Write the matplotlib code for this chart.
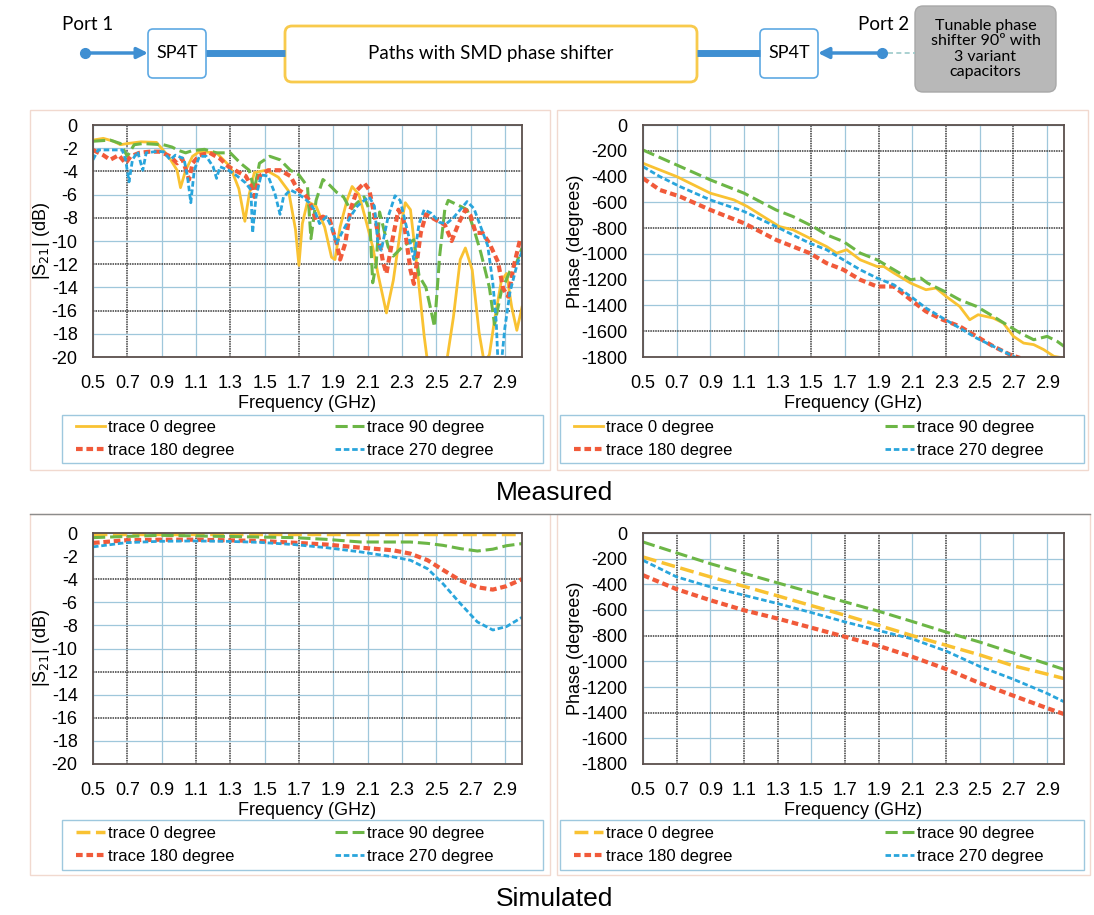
import matplotlib
matplotlib.use('Agg')
import matplotlib.pyplot as plt
from matplotlib.patches import FancyBboxPatch, Rectangle
from matplotlib.transforms import blended_transform_factory

plt.rcParams['font.family'] = ['Liberation Sans', 'DejaVu Sans']
plt.rcParams['axes.unicode_minus'] = False

labels = ['trace 0 degree', 'trace 90 degree', 'trace 180 degree', 'trace 270 degree']
colors = ['#f9c232', '#6cb646', '#f15a3a', '#29a5dc']

# ---- measured |S21| (dB)
ms_f0 = [0.50, 0.56, 0.62, 0.66, 0.70, 0.78, 0.87, 0.94, 0.99, 1.01, 1.04, 1.08, 1.12, 1.22, 1.30,
         1.35, 1.385, 1.41, 1.44, 1.51, 1.58, 1.64, 1.68, 1.70, 1.72, 1.75, 1.80, 1.85, 1.89, 1.91,
         1.94, 1.98, 2.01, 2.05, 2.09, 2.13, 2.16, 2.21, 2.25, 2.30, 2.32, 2.35, 2.39, 2.43, 2.45,
         2.56, 2.60, 2.64, 2.67, 2.71, 2.75, 2.78, 2.81, 2.84, 2.88, 2.91, 2.94, 2.97, 3.00]
ms_0 = [-1.3, -1.15, -1.4, -1.7, -1.6, -1.45, -1.5, -2.7, -3.9, -5.4, -3.9, -2.7, -2.3, -2.4, -3.6,
        -5.5, -8.3, -6.0, -4.1, -3.9, -4.5, -5.7, -9.0, -12.1, -8.5, -6.6, -7.0, -8.8, -11.4, -11.6,
        -8.8, -6.5, -5.3, -6.0, -8.2, -10.5, -12.8, -16.2, -13.4, -8.2, -6.7, -7.3, -12.5, -18.2, -20.5,
        -20.5, -16.6, -11.6, -10.6, -12.5, -17.9, -20.5, -19.8, -16.8, -13.4, -12.8, -15.7, -17.7, -15.7]

ms_f90 = [0.50, 0.60, 0.66, 0.70, 0.74, 0.79, 0.91, 0.96, 1.00, 1.04, 1.08, 1.15, 1.22, 1.30, 1.36,
          1.41, 1.44, 1.47, 1.53, 1.59, 1.65, 1.70, 1.75, 1.77, 1.80, 1.84, 1.88, 1.92, 1.96, 2.00,
          2.04, 2.08, 2.11, 2.13, 2.15, 2.17, 2.22, 2.25, 2.31, 2.37, 2.40, 2.44, 2.47, 2.49, 2.52,
          2.55, 2.57, 2.64, 2.68, 2.72, 2.76, 2.81, 2.84, 2.88, 2.93, 2.97, 3.00]
ms_90 = [-1.4, -1.3, -1.6, -2.7, -1.7, -1.6, -1.7, -1.9, -2.2, -2.4, -2.2, -2.1, -2.4, -2.4, -3.3,
         -3.9, -5.6, -3.3, -2.7, -3.0, -3.9, -4.3, -5.3, -9.8, -6.5, -4.7, -5.2, -5.8, -6.2, -7.3,
         -6.7, -6.2, -7.3, -13.6, -12.0, -7.5, -10.5, -11.3, -10.4, -9.9, -13.0, -14.0, -16.0, -17.4, -11.3,
         -7.3, -6.5, -7.0, -7.3, -9.0, -11.0, -14.0, -17.2, -14.3, -12.6, -11.8, -10.6]

ms_f180 = [0.50, 0.56, 0.60, 0.65, 0.69, 0.72, 0.77, 0.83, 0.89, 0.95, 0.99, 1.02, 1.06, 1.08, 1.12,
           1.18, 1.24, 1.29, 1.34, 1.39, 1.42, 1.44, 1.47, 1.52, 1.59, 1.65, 1.69, 1.73, 1.76, 1.80,
           1.84, 1.88, 1.92, 1.94, 1.97, 2.00, 2.04, 2.08, 2.11, 2.15, 2.19, 2.21, 2.25, 2.28, 2.31,
           2.35, 2.37, 2.41, 2.44, 2.50, 2.55, 2.59, 2.63, 2.67, 2.70, 2.73, 2.77, 2.81, 2.86, 2.89,
           2.92, 2.95, 2.99]
ms_180 = [-2.15, -2.6, -3.0, -2.6, -3.3, -2.7, -2.4, -2.3, -2.3, -2.7, -3.3, -2.9, -4.7, -3.3, -2.6,
          -2.4, -2.9, -3.6, -4.0, -4.4, -5.2, -6.2, -4.4, -3.9, -3.9, -4.4, -5.5, -5.9, -6.5, -8.2,
          -7.9, -8.2, -10.2, -11.6, -10.2, -7.3, -5.6, -5.0, -5.6, -8.5, -11.8, -12.8, -9.5, -7.3, -8.2,
          -12.5, -13.7, -9.3, -7.7, -8.2, -8.6, -10.0, -8.5, -7.3, -7.8, -9.3, -9.3, -10.2, -11.8, -14.1,
          -14.8, -12.3, -9.8]

ms_f270 = [0.50, 0.53, 0.60, 0.67, 0.69, 0.71, 0.73, 0.76, 0.79, 0.81, 0.86, 0.91, 0.95, 0.98, 1.03,
           1.05, 1.07, 1.09, 1.12, 1.16, 1.20, 1.22, 1.24, 1.29, 1.34, 1.39, 1.42, 1.43, 1.45, 1.48,
           1.52, 1.56, 1.59, 1.61, 1.65, 1.69, 1.73, 1.76, 1.79, 1.82, 1.86, 1.89, 1.92, 1.95, 2.00,
           2.04, 2.08, 2.11, 2.14, 2.16, 2.18, 2.22, 2.26, 2.29, 2.34, 2.37, 2.40, 2.43, 2.47, 2.52,
           2.56, 2.60, 2.64, 2.68, 2.72, 2.76, 2.80, 2.83, 2.85, 2.86, 2.88, 2.90, 2.93, 2.97, 3.00]
ms_270 = [-3.0, -2.15, -2.15, -2.15, -3.0, -4.9, -3.0, -2.3, -3.9, -2.4, -2.3, -2.3, -3.0, -2.6, -2.9,
          -4.4, -6.7, -3.9, -2.7, -2.7, -3.6, -4.6, -3.6, -3.9, -4.4, -5.0, -5.6, -9.3, -6.2, -4.3,
          -4.4, -5.9, -7.7, -6.2, -5.6, -5.9, -6.3, -6.7, -7.3, -8.5, -7.9, -8.8, -10.2, -9.3, -7.9,
          -7.0, -6.5, -6.2, -7.0, -10.2, -10.8, -7.9, -6.1, -6.5, -9.6, -11.6, -8.5, -7.3, -7.6, -8.4,
          -8.5, -8.0, -7.3, -6.6, -7.2, -8.8, -10.4, -13.6, -17.0, -20.5, -20.5, -17.5, -14.4, -12.1, -10.9]

# ---- measured phase (degrees)
mp_f0 = [0.50, 0.70, 0.90, 1.04, 1.12, 1.31, 1.39, 1.51, 1.59, 1.65, 1.71, 1.79, 1.89, 1.93, 1.99,
         2.09, 2.18, 2.24, 2.30, 2.38, 2.44, 2.49, 2.58, 2.64, 2.70, 2.76, 2.82, 2.88, 2.94, 3.00]
mp_0 = [-297, -400, -529, -581, -633, -788, -813, -891, -943, -994, -968, -1046, -1098, -1098, -1149,
        -1227, -1278, -1265, -1330, -1407, -1511, -1472, -1498, -1537, -1640, -1692, -1704, -1743, -1795, -1808]

mp_f90 = [0.50, 0.70, 0.90, 1.10, 1.29, 1.39, 1.43, 1.51, 1.59, 1.69, 1.79, 1.89, 1.99, 2.09, 2.15,
          2.19, 2.29, 2.38, 2.48, 2.58, 2.66, 2.74, 2.82, 2.90, 2.96, 3.00]
mp_90 = [-194, -310, -426, -529, -659, -710, -736, -788, -852, -904, -994, -1046, -1123, -1201, -1188,
         -1227, -1291, -1356, -1407, -1485, -1550, -1614, -1666, -1640, -1679, -1717]

mp_f180 = [0.50, 0.60, 0.72, 0.90, 1.10, 1.29, 1.49, 1.59, 1.69, 1.79, 1.89, 1.99, 2.09, 2.18, 2.28,
           2.38, 2.48, 2.58, 2.68, 2.74]
mp_180 = [-413, -504, -555, -659, -762, -891, -994, -1072, -1123, -1201, -1253, -1253, -1356, -1446, -1511,
          -1562, -1640, -1717, -1782, -1808]

mp_f270 = [0.50, 0.60, 0.72, 0.90, 1.10, 1.29, 1.49, 1.59, 1.69, 1.79, 1.89, 1.99, 2.09, 2.18, 2.28,
           2.38, 2.48, 2.58, 2.68, 2.72]
mp_270 = [-323, -400, -478, -581, -671, -788, -917, -968, -1046, -1123, -1188, -1240, -1330, -1420, -1498,
          -1575, -1653, -1717, -1782, -1808]

# ---- simulated |S21| (dB)
ss_f = [0.50, 0.69, 0.89, 1.08, 1.28, 1.47, 1.67, 1.86, 2.06, 2.25, 2.35, 2.45, 2.54, 2.64, 2.74,
        2.83, 2.91, 3.00]
ss_0 = [-0.05] * len(ss_f)
ss_90 = [-0.4, -0.3, -0.2, -0.25, -0.3, -0.35, -0.4, -0.55, -0.78, -0.78, -0.78, -0.9, -1.07, -1.35, -1.56,
         -1.4, -1.1, -0.92]
ss_180 = [-0.86, -0.63, -0.58, -0.58, -0.63, -0.69, -0.84, -1.0, -1.27, -1.5, -1.79, -2.36, -3.2, -4.1, -4.7,
          -4.9, -4.6, -4.0]
ss_270 = [-1.2, -0.84, -0.72, -0.69, -0.72, -0.81, -1.0, -1.27, -1.64, -2.07, -2.36, -3.1, -4.4, -6.1, -7.7,
          -8.4, -8.1, -7.3]

# ---- simulated phase (degrees)
sp_f = [0.50, 0.70, 0.90, 1.10, 1.30, 1.50, 1.70, 1.90, 2.10, 2.30, 2.50, 2.70, 2.90, 3.00]
sp_0 = [-187, -265, -342, -416, -490, -566, -641, -720, -800, -875, -950, -1035, -1100, -1134]
sp_90 = [-70, -155, -239, -314, -389, -463, -537, -610, -690, -772, -850, -935, -1020, -1063]
sp_180 = [-329, -438, -524, -602, -667, -738, -809, -880, -965, -1060, -1170, -1268, -1365, -1411]
sp_270 = [-213, -342, -420, -485, -550, -620, -693, -760, -826, -920, -1040, -1140, -1250, -1315]

freq_ticks = [0.5, 0.7, 0.9, 1.1, 1.3, 1.5, 1.7, 1.9, 2.1, 2.3, 2.5, 2.7, 2.9]

W, H = 1094, 915
fig = plt.figure(figsize=(W / 100, H / 100), dpi=100)

# full-figure axes in pixel units for the block diagram and frames
bg = fig.add_axes([0, 0, 1, 1])
bg.set_xlim(0, W)
bg.set_ylim(H, 0)
bg.axis('off')

blue = '#3f8fd2'
bg.plot(85, 53, 'o', color=blue, ms=7)
bg.annotate('', xy=(148, 53), xytext=(85, 53),
            arrowprops=dict(arrowstyle='-|>', color=blue, lw=2.5, mutation_scale=16, shrinkA=0, shrinkB=0))
bg.plot([206, 285], [53, 53], color=blue, lw=5, solid_capstyle='butt')
bg.plot([697, 760], [53, 53], color=blue, lw=5, solid_capstyle='butt')
bg.plot(882, 53, 'o', color=blue, ms=7)
bg.annotate('', xy=(818, 53), xytext=(882, 53),
            arrowprops=dict(arrowstyle='-|>', color=blue, lw=2.5, mutation_scale=16, shrinkA=0, shrinkB=0))
bg.plot([888, 915], [53, 53], color='#9cc9c9', lw=1.2, ls=(0, (3, 2)))

for x0 in (148, 760):
    bg.add_patch(FancyBboxPatch((x0, 29), 58, 49, boxstyle='round,pad=0,rounding_size=5',
                                fc='white', ec='#5ea9e3', lw=1.2))
    bg.text(x0 + 29, 53.5, 'SP4T', ha='center', va='center', fontsize=13, family='Lato')
bg.add_patch(FancyBboxPatch((285, 26), 412, 56, boxstyle='round,pad=0,rounding_size=7',
                            fc='white', ec='#f8ca4c', lw=2))
bg.text(491, 53, 'Paths with SMD phase shifter', ha='center', va='center', fontsize=13.5, family='Lato')
bg.add_patch(FancyBboxPatch((915, 6), 141, 86, boxstyle='round,pad=0,rounding_size=8',
                            fc='#b8b8b8', ec='#a8a8a8', lw=1))
bg.text(985.5, 49, 'Tunable phase\nshifter 90º with\n3 variant\ncapacitors', ha='center', va='center',
        fontsize=11.5, family='Lato', linespacing=1.15)
bg.text(88, 24, 'Port 1', ha='center', va='center', fontsize=13.5, family='Lato')
bg.text(884, 24, 'Port 2', ha='center', va='center', fontsize=13.5, family='Lato')

# panel frames
for x0, y0, w, h in [(30, 110, 520, 360), (557, 110, 531, 360), (30, 514, 520, 361), (557, 514, 533, 361)]:
    bg.add_patch(Rectangle((x0, y0), w, h, fc='none', ec='#f1d9cf', lw=1))
bg.plot([30, 1090], [514, 514], color='#8c8c8c', lw=1)
bg.text(555, 493, 'Measured', ha='center', va='center', fontsize=19)
bg.text(555, 899, 'Simulated', ha='center', va='center', fontsize=19)


def setup(rect, ylim, yticks, ylabel, dark_x, dark_y, ylabel_x):
    ax = fig.add_axes(rect)
    ax.set_xlim(0.5, 3.0)
    ax.set_ylim(*ylim)
    ax.set_xticks(freq_ticks)
    ax.set_xticklabels([f'{t:.1f}' for t in freq_ticks])
    ax.set_yticks(yticks)
    ax.set_yticklabels([str(t) for t in yticks])
    ax.tick_params(length=0, labelsize=13)
    ax.tick_params(axis='y', pad=11)
    ax.tick_params(axis='x', pad=13)
    for t in freq_ticks:
        ax.axvline(t, color='#3a3a3a' if t in dark_x else '#9fc7db', lw=1.1 if t in dark_x else 0.9,
                   ls=(0, (1, 0.6)) if t in dark_x else '-', zorder=0.5)
    for t in yticks:
        ax.axhline(t, color='#3a3a3a' if t in dark_y else '#9fc7db', lw=1.1 if t in dark_y else 0.9,
                   ls=(0, (1, 0.6)) if t in dark_y else '-', zorder=0.5)
    for s in ax.spines.values():
        s.set_color('#5b4f4c')
        s.set_linewidth(1.3)
    ax.set_xlabel('Frequency (GHz)', fontsize=13, labelpad=2)
    ax.set_ylabel(ylabel, fontsize=13, va='center')
    ax.yaxis.set_label_coords(ylabel_x, 0.5, transform=blended_transform_factory(bg.transData, ax.transAxes))
    return ax


def styles(sim):
    return [dict(color=colors[0], lw=2.5 if sim else 2.0, ls=(0, (4, 1.6)) if sim else '-'),
            dict(color=colors[1], lw=2.2, ls=(0, (4, 1.6))),
            dict(color=colors[2], lw=3.0, ls=(0, (1.6, 0.9))),
            dict(color=colors[3], lw=2.0, ls=(0, (2.0, 1.0)))]


def legend(ax, handles, box, colsp):
    x0, y0, x1, y1 = box
    bg.add_patch(Rectangle((x0, y0), x1 - x0, y1 - y0, fc='white', ec='#9ec8de', lw=1))
    order = [0, 2, 1, 3]
    ax.legend([handles[i] for i in order], [labels[i] for i in order], ncol=2, loc='center left',
              bbox_to_anchor=(x0 + 14, (y0 + y1) / 2), bbox_transform=bg.transData,
              fontsize=12, frameon=False, handlelength=1.75, handletextpad=0.2,
              labelspacing=0.5, borderpad=0, borderaxespad=0, columnspacing=colsp)


s21_ticks = list(range(0, -21, -2))
ph_ticks = list(range(0, -1801, -200))

# measured |S21|
ax = setup([93 / W, 1 - 357 / H, 429 / W, 232 / H], (-20, 0), s21_ticks, '|S$_{21}$| (dB)',
           [0.7, 1.3, 1.7], [-4, -8, -12, -16], 42)
st = styles(False)
h = []
for f, v, s in zip([ms_f0, ms_f90, ms_f180, ms_f270], [ms_0, ms_90, ms_180, ms_270], st):
    h.append(ax.plot(f, v, **s)[0])
legend(ax, h, (62, 415, 543, 463), 6.0)

# measured phase
ax = setup([643 / W, 1 - 357 / H, 421 / W, 232 / H], (-1800, 0), ph_ticks, 'Phase (degrees)',
           [1.5, 1.9, 2.3, 2.7], [-200, -800, -1600], 575)
h = []
for f, v, s in zip([mp_f0, mp_f90, mp_f180, mp_f270], [mp_0, mp_90, mp_180, mp_270], st):
    h.append(ax.plot(f, v, **s)[0])
legend(ax, h, (560, 415, 1084, 463), 9.1)

# simulated |S21|
ax = setup([93 / W, 1 - 764 / H, 429 / W, 231 / H], (-20, 0), s21_ticks, '|S$_{21}$| (dB)',
           [0.7, 1.1, 1.3, 1.7], [-4, -12, -16], 42)
st = styles(True)
h = []
for v, s in zip([ss_0, ss_90, ss_180, ss_270], st):
    h.append(ax.plot(ss_f, v, **s)[0])
legend(ax, h, (62, 820, 543, 870), 6.0)

# simulated phase
ax = setup([643 / W, 1 - 764 / H, 421 / W, 231 / H], (-1800, 0), ph_ticks, 'Phase (degrees)',
           [0.7, 1.1, 1.3, 1.7, 1.9, 2.3], [-800, -1400], 575)
h = []
for v, s in zip([sp_0, sp_90, sp_180, sp_270], st):
    h.append(ax.plot(sp_f, v, **s)[0])
legend(ax, h, (560, 820, 1084, 870), 9.1)

fig.savefig('out.png', dpi=100)
